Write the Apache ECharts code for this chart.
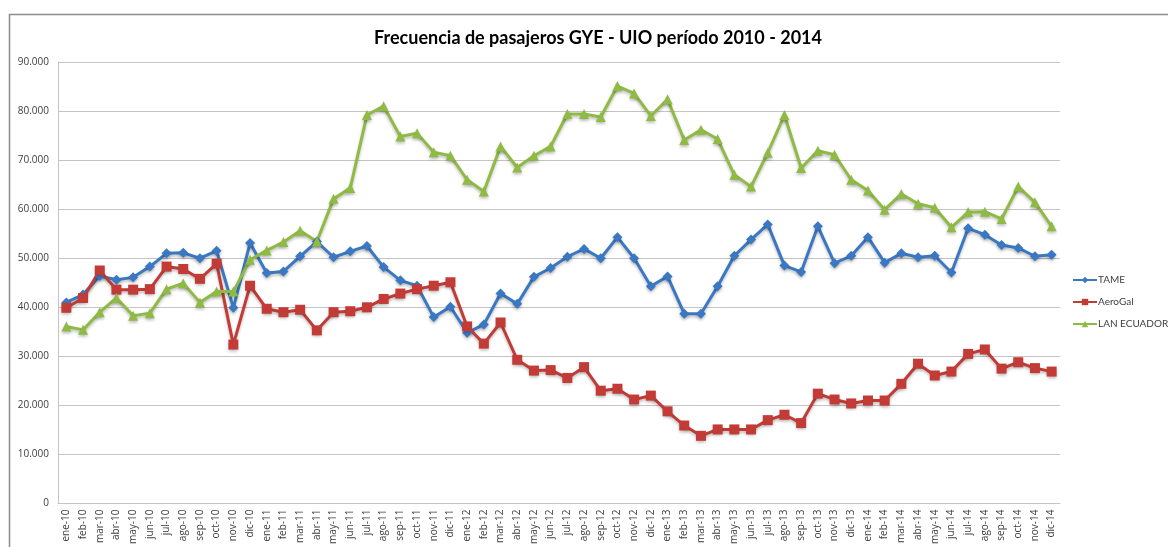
<!DOCTYPE html>
<html>
<head>
<meta charset="utf-8">
<script src="https://cdn.jsdelivr.net/npm/echarts@6/dist/echarts.min.js"></script>
<style>
  html, body { margin: 0; padding: 0; background: #fff; }
  #main { width: 1168px; height: 547px; }
</style>
</head>
<body>
<div id="main"></div>
<script>
var meses = ['ene', 'feb', 'mar', 'abr', 'may', 'jun', 'jul', 'ago', 'sep', 'oct', 'nov', 'dic'];
var anios = ['10', '11', '12', '13', '14'];
var yTicks = [0, 10000, 20000, 30000, 40000, 50000, 60000, 70000, 80000, 90000];

var tame = [41000, 42600, 46400, 45600, 46100, 48300, 51000, 51100, 50000, 51500, 39900, 53100,
  47000, 47300, 50400, 53400, 50200, 51400, 52500, 48200, 45500, 44400, 38000, 40100,
  34800, 36500, 42800, 40700, 46200, 48000, 50300, 51900, 50000, 54300, 50000, 44300,
  46300, 38700, 38700, 44300, 50500, 53800, 56900, 48500, 47200, 56500, 49000, 50500,
  54300, 49100, 51000, 50200, 50500, 47100, 56100, 54800, 52700, 52100, 50400, 50700];

var aerogal = [39900, 41900, 47500, 43600, 43600, 43700, 48300, 47800, 45800, 48900, 32400, 44400,
  39700, 39000, 39500, 35300, 39000, 39200, 40000, 41700, 42800, 43700, 44400, 45100,
  36100, 32600, 36900, 29300, 27100, 27200, 25600, 27800, 23000, 23400, 21200, 22000,
  18800, 15900, 13800, 15100, 15100, 15100, 17000, 18100, 16400, 22400, 21200, 20400,
  21000, 21000, 24400, 28500, 26100, 26900, 30500, 31400, 27500, 28800, 27600, 26900];

var lanEcuador = [36100, 35400, 39000, 41900, 38300, 38800, 43700, 44900, 41000, 43200, 43200, 49700,
  51600, 53300, 55600, 53400, 62100, 64300, 79200, 81000, 74800, 75500, 71600, 70900,
  66000, 63600, 72800, 68500, 70900, 72800, 79400, 79400, 78800, 85100, 83600, 79000,
  82400, 74100, 76200, 74300, 67000, 64600, 71500, 79200, 68400, 71900, 71100, 66000,
  63800, 59900, 63100, 61100, 60300, 56300, 59400, 59500, 58000, 64600, 61400, 56500];

var categorias = [];
anios.forEach(function (a) {
  meses.forEach(function (m) {
    categorias.push(m + '-' + a);
  });
});

var fontLbl = 'Open Sans, Lato, sans-serif';

function serie(nombre, datos, color, simbolo, tam) {
  return {
    name: nombre,
    type: 'line',
    data: datos,
    symbol: simbolo,
    symbolSize: tam,
    color: color,
    lineStyle: {
      width: 3, color: color,
      shadowColor: 'rgba(0,0,0,0.25)', shadowBlur: 3, shadowOffsetY: 2
    },
    itemStyle: {
      color: color,
      shadowColor: 'rgba(0,0,0,0.25)', shadowBlur: 3, shadowOffsetY: 2
    },
    emphasis: { disabled: true }
  };
}

var chart = echarts.init(document.getElementById('main'));
var option = {
  animation: false,
  backgroundColor: '#fff',
  title: {
    text: 'Frecuencia de pasajeros GYE - UIO período 2010 - 2014',
    left: 593,
    top: 24,
    textAlign: 'center',
    textStyle: { fontFamily: 'Lato, Open Sans, sans-serif', fontWeight: 'bold', fontSize: 18, color: '#000' }
  },
  graphic: [{
    type: 'rect',
    shape: { x: 9.5, y: 14.5, width: 1200, height: 600 },
    style: { fill: null, stroke: '#8c8c8c', lineWidth: 1.5 },
    silent: true
  }],
  legend: {
    orient: 'vertical',
    left: 1072,
    top: 275,
    padding: 0,
    itemWidth: 24,
    itemHeight: 8,
    itemGap: 12,
    textStyle: { fontFamily: 'Lato, sans-serif', fontSize: 10, color: '#404040', padding: [0, 0, 0, -4] },
    data: ['TAME', 'AeroGal', 'LAN ECUADOR']
  },
  grid: { left: 58, right: 108, top: 62, bottom: 43, containLabel: false },
  xAxis: {
    type: 'category',
    data: categorias,
    boundaryGap: true,
    axisLine: { lineStyle: { color: '#c4c4c4', width: 1 } },
    axisTick: { show: false },
    axisLabel: { rotate: 90, interval: 0, margin: 6, fontFamily: fontLbl, fontSize: 10, color: '#404040' }
  },
  yAxis: {
    type: 'value',
    min: yTicks[0],
    max: yTicks[yTicks.length - 1],
    interval: 10000,
    axisLine: { show: true, lineStyle: { color: '#c4c4c4', width: 1 } },
    axisTick: { show: false },
    splitLine: { lineStyle: { color: '#c4c4c4', width: 1 } },
    axisLabel: {
      margin: 9,
      fontFamily: fontLbl, fontSize: 10, color: '#404040',
      formatter: function (v) {
        return v === 0 ? '0' : v.toString().replace(/\B(?=(\d{3})+(?!\d))/g, '.');
      }
    }
  },
  series: [
    serie('TAME', tame, '#3b78c3', 'diamond', 10),
    serie('AeroGal', aerogal, '#c23b36', 'rect', 10),
    serie('LAN ECUADOR', lanEcuador, '#8fbb45', 'triangle', 10)
  ]
};
chart.setOption(option);
</script>
</body>
</html>
